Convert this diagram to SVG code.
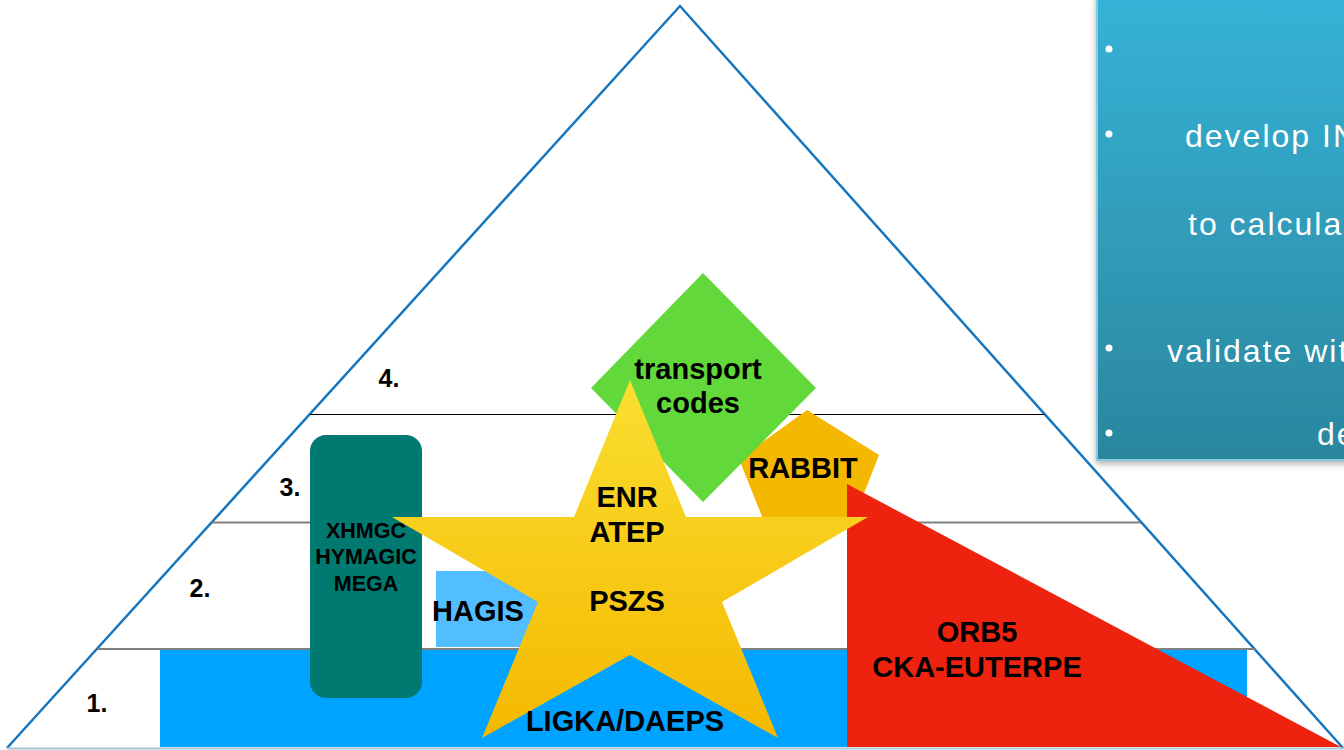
<svg xmlns="http://www.w3.org/2000/svg" width="1344" height="750" viewBox="0 0 1344 750">
<defs>
<linearGradient id="starGrad" x1="0" y1="0" x2="0" y2="1">
<stop offset="0" stop-color="#f9df30"/>
<stop offset="1" stop-color="#f5b800"/>
</linearGradient>
<linearGradient id="boxGrad" x1="0" y1="0" x2="0" y2="1">
<stop offset="0" stop-color="#36b3d7"/>
<stop offset="1" stop-color="#2b869e"/>
</linearGradient>
<filter id="shadow" x="-10%" y="-10%" width="130%" height="130%">
<feDropShadow dx="0" dy="3" stdDeviation="3" flood-color="#000" flood-opacity="0.3"/>
</filter>
<clipPath id="boxClip">
<rect x="1097" y="0" width="247" height="460"/>
</clipPath>
<style>
.lbl{font-family:"Liberation Sans",Arial,sans-serif;font-weight:bold;fill:#000;text-anchor:middle}
.big{font-size:29px}
.lvl{font-size:25px}
.small{font-size:21.5px}
.white{font-family:"Liberation Sans",Arial,sans-serif;font-size:32px;fill:#fff;letter-spacing:2px}
</style>
</defs>
<rect width="1344" height="750" fill="#fff"/>

<g id="pyramid">
<polyline points="7,748 680,6 1343,748" fill="none" stroke="#1676bf" stroke-width="2.5" stroke-linejoin="miter"/>
<line x1="7" y1="748.5" x2="1344" y2="748.5" stroke="#a8c8da" stroke-width="2"/>
<line x1="310" y1="414.5" x2="1044" y2="414.5" stroke="#000" stroke-width="1"/>
<line x1="212" y1="522.5" x2="1141" y2="522.5" stroke="#808080" stroke-width="2"/>
<line x1="98" y1="649" x2="1256" y2="649" stroke="#808080" stroke-width="2"/>
<text class="lbl lvl" x="389" y="387">4.</text>
<text class="lbl lvl" x="290" y="496">3.</text>
<text class="lbl lvl" x="200" y="597">2.</text>
<text class="lbl lvl" x="97" y="712">1.</text>
</g>

<g id="level1">
<rect x="160" y="650" width="1087" height="97" fill="#00a3ff"/>
</g>

<g id="xhmgc">
<rect x="310" y="435" width="112" height="263" rx="16" fill="#007a71"/>
<text class="lbl small" x="366" y="538">XHMGC</text>
<text class="lbl small" x="366" y="564">HYMAGIC</text>
<text class="lbl small" x="366" y="591">MEGA</text>
</g>

<g id="hagis">
<rect x="436" y="571" width="108" height="76" fill="#52bdff"/>
<text class="lbl big" x="478" y="621">HAGIS</text>
</g>

<g id="rabbit">
<polygon points="807,410 879,455 852,524 765,524 739,459" fill="#f5b800"/>
<text class="lbl big" x="803" y="478">RABBIT</text>
</g>

<g id="transport">
<polygon points="703,273 816,388 703,502 591,388" fill="#62d83a"/>
<text class="lbl big" x="698" y="379">transport</text>
<text class="lbl big" x="698" y="413">codes</text>
</g>

<g id="orb5">
<polygon points="847,484 1341,747 847,747" fill="#ed2310"/>
<text class="lbl big" x="977" y="642">ORB5</text>
<text class="lbl big" x="977" y="677">CKA-EUTERPE</text>
</g>

<g id="star">
<polygon points="630,380 686,517 868,517 722,602 778,738 630,655 482,738 538,602 392,517 574,517" fill="url(#starGrad)"/>
<text class="lbl big" x="627" y="507">ENR</text>
<text class="lbl big" x="627" y="542">ATEP</text>
<text class="lbl big" x="627" y="611">PSZS</text>
</g>

<g id="ligka">
<text class="lbl big" x="625" y="731">LIGKA/DAEPS</text>
</g>

<g id="textbox">
<rect x="1097" y="-6" width="260" height="466" fill="url(#boxGrad)" stroke="#86cbe0" stroke-width="2" filter="url(#shadow)"/>
<circle cx="1109" cy="49" r="3.5" fill="#fff"/>
<circle cx="1109" cy="134" r="3.5" fill="#fff"/>
<circle cx="1109" cy="348" r="3.5" fill="#fff"/>
<circle cx="1109" cy="433" r="3.5" fill="#fff"/>
<g clip-path="url(#boxClip)">
<text class="white" x="1185" y="147">develop IN</text>
<text class="white" x="1188" y="235">to calcula</text>
<text class="white" x="1167" y="362">validate wit</text>
<text class="white" x="1317" y="445">de</text>
</g>
</g>

<g id="connectors"></g>
</svg>
